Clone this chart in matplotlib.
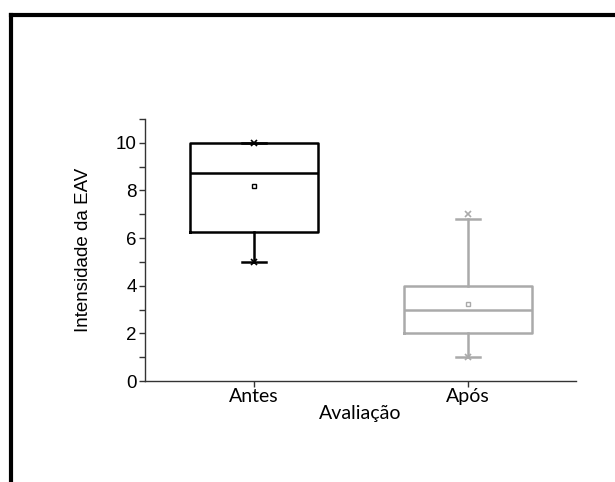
import matplotlib
matplotlib.use("Agg")
import matplotlib.pyplot as plt
from matplotlib.lines import Line2D

categories = ["Antes", "Após"]
q1 = [6.25, 2.0]
median = [8.75, 3.0]
q3 = [10.0, 4.0]
mean = [8.2, 3.25]
whislo = [5.0, 1.0]
whishi = [10.0, 6.8]
minimum = [5.0, 1.0]
maximum = [10.0, 7.0]
colors = ["#000000", "#aaaaaa"]

fig = plt.figure(figsize=(6.15, 4.82), dpi=100)
ax = fig.add_axes([145/615, 1-381/482, (576-145)/615, (381-119)/482])

for i, cat in enumerate(categories):
    st = [dict(label=cat, q1=q1[i], med=median[i], q3=q3[i], mean=mean[i],
               whislo=whislo[i], whishi=whishi[i], fliers=[])]
    c = colors[i]
    ax.bxp(st, positions=[i], widths=0.6, showmeans=True, meanline=False,
           patch_artist=False, manage_ticks=False,
           boxprops=dict(color=c, linewidth=1.8),
           medianprops=dict(color=c, linewidth=1.8),
           whiskerprops=dict(color=c, linewidth=1.8),
           capprops=dict(color=c, linewidth=1.8),
           capwidths=0.11,
           meanprops=dict(marker="s", markersize=3.5, markerfacecolor="white",
                          markeredgecolor=c, markeredgewidth=1.0))
    ax.plot([i, i], [minimum[i], maximum[i]], linestyle="none", marker="x",
            markersize=4, color=c, markeredgewidth=1.2)

ax.set_xlim(-0.51, 1.505)
ax.set_ylim(0, 11)
ax.set_yticks([0, 2, 4, 6, 8, 10])
ax.set_yticks([1, 3, 5, 7, 9, 11], minor=True)
ax.set_xticks(range(len(categories)))
ax.set_xticklabels(categories, fontfamily="Lato", fontsize=14)
for s in ["top", "right"]:
    ax.spines[s].set_visible(False)
for s in ["left", "bottom"]:
    ax.spines[s].set_color("#333333")
    ax.spines[s].set_linewidth(1.0)
ax.tick_params(axis="both", which="both", direction="out", length=4, width=1.0, color="#333333")
ax.tick_params(axis="y", labelsize=13.5, pad=2)
ax.tick_params(axis="x", pad=1)
for t in ax.get_yticklabels():
    t.set_fontfamily("Liberation Sans")
ax.set_ylabel("Intensidade da EAV", fontfamily="Liberation Sans", fontsize=13.5, labelpad=17)
ax.set_xlabel("Avaliação", fontfamily="Lato", fontsize=14, labelpad=0)

# outer frame
fig.add_artist(Line2D([11/615, 11/615], [0, 1-15/482], transform=fig.transFigure,
                      color="black", linewidth=3, solid_capstyle="projecting"))
fig.add_artist(Line2D([11/615, 1.0], [1-15/482, 1-15/482], transform=fig.transFigure,
                      color="black", linewidth=3, solid_capstyle="projecting"))

fig.savefig("out.png", dpi=100)
